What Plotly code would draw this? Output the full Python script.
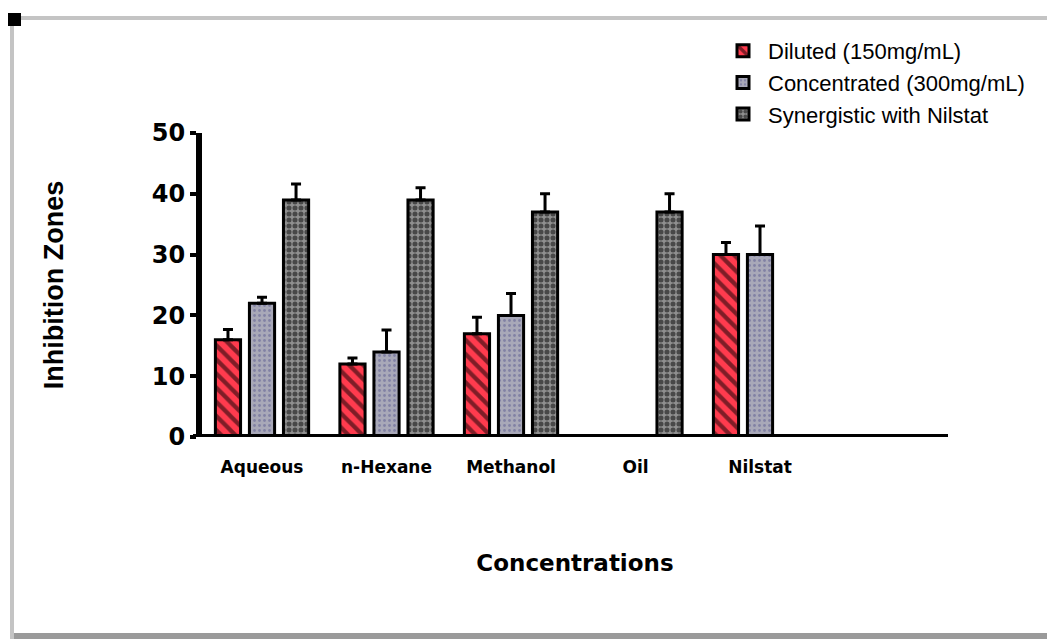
import plotly.graph_objects as go

categories = ["Aqueous", "n-Hexane", "Methanol", "Oil", "Nilstat"]
series_names = ["Diluted (150mg/mL)", "Concentrated (300mg/mL)", "Synergistic with Nilstat"]
diluted = [16, 12, 17, None, 30]
diluted_err = [1.7, 1.0, 2.7, 0, 2.0]
concentrated = [22, 14, 20, None, 30]
concentrated_err = [1.0, 3.6, 3.6, 0, 4.7]
synergistic = [39, 39, 37, 37, None]
synergistic_err = [2.6, 2.0, 3.0, 3.0, 0]
y_ticks = [0, 10, 20, 30, 40, 50]

W, H = 1047, 639
L, R, T, B = 202, 948, 133, 437
FONT = "Liberation Sans, Arial, sans-serif"
WIDE = "DejaVu Sans, sans-serif"


def px(x):
    return (x - L) / (R - L)


def py(y):
    return (B - y) / (B - T)


styles = [
    dict(bg="#ff3b4e", fg="#000000", shape="\\", size=10, solidity=0.42),
    dict(bg="#a8a8b8", fg="#5a5a90", shape=".", size=5, solidity=0.25),
    dict(bg="#909090", fg="#000000", shape=".", size=6, solidity=0.55),
]

fig = go.Figure()
for name, vals, errs, st in zip(series_names, [diluted, concentrated, synergistic],
                                [diluted_err, concentrated_err, synergistic_err], styles):
    fig.add_trace(go.Bar(
        name=name, x=categories, y=vals,
        marker=dict(color=st["bg"], line=dict(color="black", width=3),
                    pattern=dict(shape=st["shape"], fgcolor=st["fg"], bgcolor=st["bg"],
                                 size=st["size"], solidity=st["solidity"], fillmode="overlay")),
        error_y=dict(type="data", symmetric=False, array=errs,
                     arrayminus=[0] * len(errs), color="black", thickness=3, width=5),
    ))

shapes = [
    dict(type="rect", xref="paper", yref="paper", x0=px(14), x1=px(1047), y0=py(16), y1=py(20),
         fillcolor="#c4c4c4", line=dict(width=0), layer="below"),
    dict(type="rect", xref="paper", yref="paper", x0=px(10), x1=px(14), y0=py(16), y1=py(639),
         fillcolor="#c4c4c4", line=dict(width=0), layer="below"),
    dict(type="rect", xref="paper", yref="paper", x0=px(14), x1=px(1047), y0=py(633), y1=py(639),
         fillcolor="#9a9a9a", line=dict(width=0), layer="below"),
    dict(type="rect", xref="paper", yref="paper", x0=px(8), x1=px(21), y0=py(13), y1=py(26),
         fillcolor="#000000", line=dict(width=0)),
    dict(type="line", xref="paper", yref="y", x0=px(193), x1=1.0, y0=0, y1=0,
         line=dict(color="black", width=6)),
]

fig.update_layout(
    width=W, height=H,
    margin=dict(l=L, r=W - R, t=T, b=H - B, pad=0),
    paper_bgcolor="white", plot_bgcolor="white",
    font=dict(family=FONT, color="black"),
    barmode="group", bargap=0.18, bargroupgap=0.26,
    showlegend=True,
    legend=dict(x=px(718), y=py(30), xanchor="left", yanchor="top",
                font=dict(size=22, family=FONT), bgcolor="rgba(0,0,0,0)",
                tracegroupgap=0, itemwidth=40),
    xaxis=dict(range=[-0.482, 5.51], showline=False, ticks="", showgrid=False, zeroline=False,
               tickfont=dict(size=17, family=WIDE, weight="bold"), ticklabelstandoff=18,
               title=dict(text="<b>Concentrations</b>", font=dict(size=23, family=WIDE),
                          standoff=78)),
    yaxis=dict(range=[0, 50], tickvals=y_ticks, showline=True, linecolor="black", linewidth=6,
               ticks="outside", ticklen=6, tickwidth=4, tickcolor="black", showgrid=False,
               zeroline=False, tickfont=dict(size=24, family=WIDE, weight="bold"),
               title=dict(text="<b>Inhibition Zones</b>", font=dict(size=27, family=FONT),
                          standoff=82)),
    shapes=shapes,
)

fig.write_html("out.html")
